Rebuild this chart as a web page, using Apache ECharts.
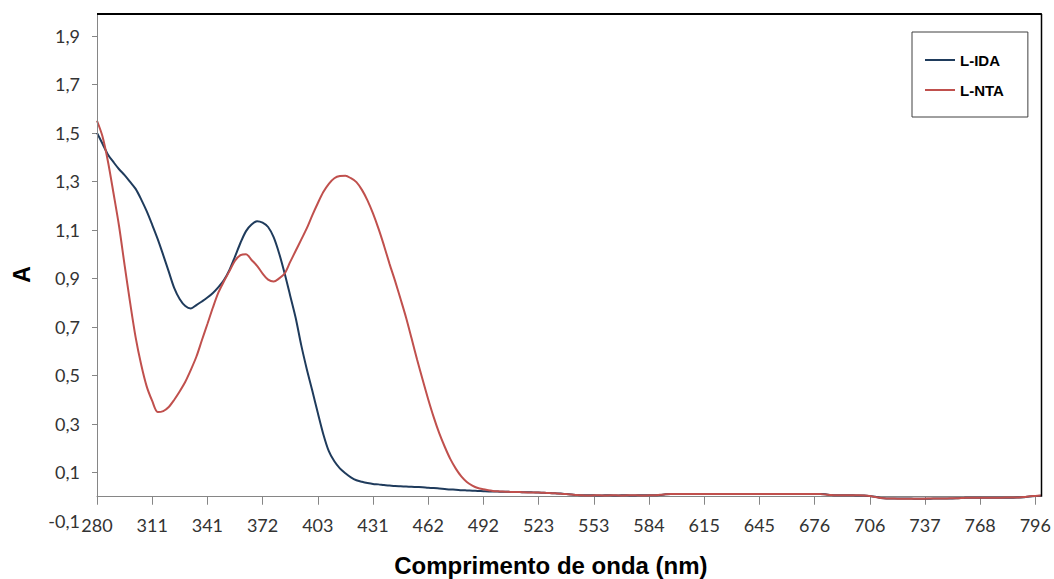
<!DOCTYPE html>
<html>
<head>
<meta charset="utf-8">
<script src="https://cdn.jsdelivr.net/npm/echarts@6/dist/echarts.min.js"></script>
<style>
html,body{margin:0;padding:0;background:#fff;}
#chart{width:1054px;height:579px;}
</style>
</head>
<body>
<div id="chart"></div>
<script>
// Wavelength tick labels (one every 10 data points)
const tickLabels = ['280','311','341','372','403','431','462','492','523','553','584','615','645','676','706','737','768','796'];
const pointsPerTick = 10;

const seriesNames = ['L-IDA', 'L-NTA'];

const ldaValues = [
  1.50, 1.455, 1.41, 1.379, 1.35, 1.326, 1.298, 1.269, 1.226, 1.177,
  1.121, 1.062, 0.996, 0.928, 0.86, 0.814, 0.786, 0.776, 0.79, 0.805,
  0.821, 0.84, 0.864, 0.893, 0.935, 0.99, 1.047, 1.095, 1.122, 1.136,
  1.13, 1.112, 1.07, 1.003, 0.92, 0.829, 0.737, 0.625, 0.527, 0.438,
  0.346, 0.258, 0.188, 0.146, 0.117, 0.097, 0.08, 0.068, 0.062, 0.057,
  0.053, 0.051, 0.048, 0.046, 0.044, 0.043, 0.042, 0.041, 0.04, 0.039,
  0.037, 0.036, 0.034, 0.032, 0.03, 0.029, 0.027, 0.026, 0.025, 0.024,
  0.023, 0.022, 0.022, 0.021, 0.021, 0.020, 0.020, 0.019, 0.019, 0.018,
  0.017, 0.016, 0.015, 0.014, 0.013, 0.011, 0.009, 0.007, 0.006, 0.006,
  0.006, 0.005, 0.006, 0.006, 0.005, 0.006, 0.006, 0.005, 0.006, 0.006,
  0.006, 0.006, 0.007, 0.010, 0.011, 0.011, 0.011, 0.011, 0.011, 0.011,
  0.011, 0.011, 0.011, 0.011, 0.011, 0.011, 0.011, 0.011, 0.011, 0.011,
  0.011, 0.011, 0.011, 0.011, 0.011, 0.011, 0.011, 0.011, 0.011, 0.011,
  0.011, 0.011, 0.010, 0.007, 0.006, 0.006, 0.006, 0.006, 0.005, 0.005,
  0.003, 0.000, -0.005, -0.007, -0.007, -0.007, -0.007, -0.007, -0.008, -0.008,
  -0.008, -0.008, -0.007, -0.007, -0.007, -0.007, -0.006, -0.005, -0.004, -0.004,
  -0.004, -0.004, -0.004, -0.004, -0.004, -0.004, -0.004, -0.003, -0.002, 0.001,
  0.003, 0.004
];

const ntaValues = [
  1.55, 1.485, 1.38, 1.25, 1.115, 0.955, 0.80, 0.657, 0.545, 0.455,
  0.395, 0.349, 0.353, 0.37, 0.40, 0.435, 0.474, 0.523, 0.577, 0.645,
  0.712, 0.78, 0.842, 0.888, 0.93, 0.973, 0.996, 1.0, 0.976, 0.952,
  0.92, 0.895, 0.887, 0.90, 0.92, 0.968, 1.014, 1.06, 1.106, 1.16,
  1.21, 1.256, 1.29, 1.313, 1.322, 1.323, 1.313, 1.297, 1.265, 1.222,
  1.168, 1.105, 1.035, 0.96, 0.89, 0.815, 0.738, 0.652, 0.565, 0.482,
  0.402, 0.328, 0.262, 0.206, 0.156, 0.116, 0.084, 0.061, 0.046, 0.036,
  0.031, 0.027, 0.023, 0.022, 0.021, 0.020, 0.020, 0.019, 0.018, 0.018,
  0.017, 0.016, 0.015, 0.014, 0.012, 0.011, 0.009, 0.007, 0.006, 0.005,
  0.006, 0.006, 0.005, 0.006, 0.006, 0.005, 0.006, 0.006, 0.006, 0.005,
  0.006, 0.006, 0.008, 0.010, 0.011, 0.011, 0.011, 0.011, 0.011, 0.011,
  0.011, 0.011, 0.011, 0.011, 0.011, 0.011, 0.011, 0.011, 0.011, 0.011,
  0.011, 0.011, 0.011, 0.011, 0.011, 0.011, 0.011, 0.011, 0.011, 0.011,
  0.011, 0.011, 0.009, 0.007, 0.006, 0.006, 0.006, 0.006, 0.006, 0.005,
  0.003, -0.001, -0.005, -0.007, -0.007, -0.008, -0.008, -0.008, -0.008, -0.008,
  -0.008, -0.007, -0.007, -0.007, -0.007, -0.006, -0.006, -0.005, -0.004, -0.004,
  -0.004, -0.004, -0.004, -0.004, -0.004, -0.003, -0.003, -0.003, -0.001, 0.002,
  0.003, 0.005
];

const yTickValues = [0.1, 0.3, 0.5, 0.7, 0.9, 1.1, 1.3, 1.5, 1.7, 1.9];
const yLabelValues = [-0.1, 0.1, 0.3, 0.5, 0.7, 0.9, 1.1, 1.3, 1.5, 1.7, 1.9];
const yMin = -0.1, yMax = 1.99;

const xTitle = 'Comprimento de onda (nm)';
const yTitle = 'A';

const categories = ldaValues.map((_, i) => String(i));

const chart = echarts.init(document.getElementById('chart'), null, {renderer: 'svg'});

const labelFont = {fontFamily: 'Lato', fontSize: 18, color: '#333'};

chart.setOption({
  animation: false,
  backgroundColor: '#fff',
  grid: {left: 97, right: 11, top: 14, bottom: 58, containLabel: false},
  legend: {
    data: seriesNames.map(n => ({name: n, icon: 'rect'})),
    orient: 'vertical',
    left: 912, top: 32,
    padding: [20, 24, 19, 13],
    borderColor: '#404040', borderWidth: 1,
    itemWidth: 30, itemHeight: 2, itemGap: 14,
    textStyle: {fontFamily: 'Liberation Sans', fontWeight: 'bold', fontSize: 15, lineHeight: 16, color: '#000'}
  },
  xAxis: {
    type: 'category',
    data: categories,
    boundaryGap: false,
    axisLine: {onZero: false, lineStyle: {color: '#868686', width: 1}},
    axisTick: {show: true, interval: pointsPerTick - 1, length: 8, lineStyle: {color: '#868686'}},
    axisLabel: Object.assign({
      interval: pointsPerTick - 1,
      margin: 19,
      hideOverlap: false,
      formatter: (v, idx) => (idx % pointsPerTick === 0 && tickLabels[idx / pointsPerTick]) ? tickLabels[idx / pointsPerTick] : ''
    }, labelFont),
    splitLine: {show: false}
  },
  yAxis: {
    type: 'value',
    min: yMin, max: yMax, interval: 0.2,
    axisLine: {show: false},
    axisTick: {show: true, length: 5, customValues: yTickValues, lineStyle: {color: '#868686'}},
    axisLabel: Object.assign({
      margin: 17,
      customValues: yLabelValues,
      formatter: v => v.toFixed(1).replace('.', ',')
    }, labelFont),
    splitLine: {show: false}
  },
  series: [
    {name: seriesNames[0], type: 'line', data: ldaValues, symbol: 'none', smooth: 0.3, lineStyle: {color: '#1F3B5C', width: 2}, itemStyle: {color: '#1F3B5C'}},
    {name: seriesNames[1], type: 'line', data: ntaValues, symbol: 'none', smooth: 0.3, lineStyle: {color: '#C0504D', width: 2}, itemStyle: {color: '#C0504D'}}
  ]
});

// Frame, x-axis position (at A = 0) and titles, from the library's own scales
const xL = chart.convertToPixel({xAxisIndex: 0}, 0);
const xR = chart.convertToPixel({xAxisIndex: 0}, categories.length - 1);
const yTop = chart.convertToPixel({yAxisIndex: 0}, yMax);
const yZero = chart.convertToPixel({yAxisIndex: 0}, 0);
const yBottom = chart.convertToPixel({yAxisIndex: 0}, yMin);

chart.setOption({
  xAxis: {offset: -(yBottom - yZero)},
  graphic: [
    {type: 'line', shape: {x1: Math.round(xL) + 0.5, y1: yZero, x2: Math.round(xL) + 0.5, y2: yTop}, style: {stroke: '#868686', lineWidth: 1}, z: 5},
    {type: 'line', shape: {x1: xL, y1: Math.round(yTop), x2: xR + 1, y2: Math.round(yTop)}, style: {stroke: '#000', lineWidth: 2}, z: 5},
    {type: 'line', shape: {x1: Math.round(xR) + 0.5, y1: yTop, x2: Math.round(xR) + 0.5, y2: yZero}, style: {stroke: '#000', lineWidth: 1.5}, z: 5},
    {type: 'text', x: (xL + xR) / 2 - 18, y: yBottom + 44, style: {text: xTitle, fontFamily: 'Liberation Sans', fontWeight: 'bold', fontSize: 24, fill: '#000', textAlign: 'center', textVerticalAlign: 'middle'}},
    {type: 'text', x: 22, y: (yTop + yBottom) / 2 + 7, rotation: Math.PI / 2, style: {text: yTitle, fontFamily: 'Liberation Sans', fontWeight: 'bold', fontSize: 23, fill: '#000', textAlign: 'center', textVerticalAlign: 'middle'}}
  ]
});
</script>
</body>
</html>
